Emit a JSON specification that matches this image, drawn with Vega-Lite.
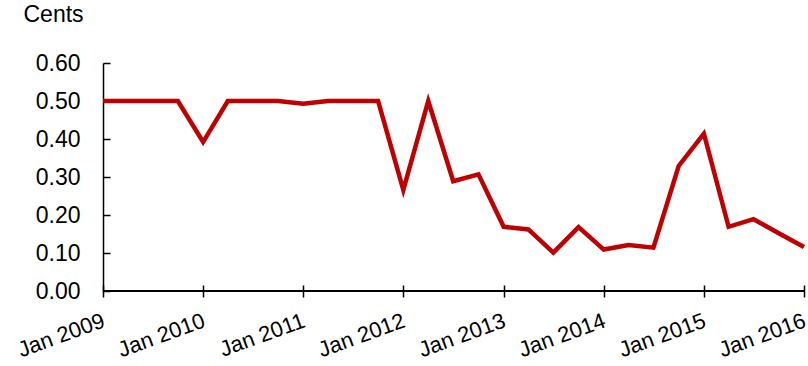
{
  "$schema": "https://vega.github.io/schema/vega-lite/v6.json",
  "width": 701,
  "height": 228,
  "autosize": "none",
  "padding": {"left": 103, "top": 63, "right": 4, "bottom": 75},
  "background": "white",
  "config": {
    "view": {"stroke": null},
    "font": "Liberation Sans",
    "axis": {"grid": false, "domainColor": "black", "tickColor": "black", "labelColor": "black", "titleColor": "black", "labelFont": "Liberation Sans", "titleFont": "Liberation Sans", "labelFontSize": 23, "titleFontSize": 23, "titleFontWeight": "normal", "domainWidth": 1.5, "tickWidth": 1.5, "labelOverlap": false}
  },
  "data": {"values": [
    {"date": "2009-01-01", "value": 0.50},
    {"date": "2009-04-01", "value": 0.50},
    {"date": "2009-07-01", "value": 0.50},
    {"date": "2009-10-01", "value": 0.50},
    {"date": "2010-01-01", "value": 0.392},
    {"date": "2010-04-01", "value": 0.50},
    {"date": "2010-07-01", "value": 0.50},
    {"date": "2010-10-01", "value": 0.50},
    {"date": "2011-01-01", "value": 0.493},
    {"date": "2011-04-01", "value": 0.50},
    {"date": "2011-07-01", "value": 0.50},
    {"date": "2011-10-01", "value": 0.50},
    {"date": "2012-01-01", "value": 0.266},
    {"date": "2012-04-01", "value": 0.50},
    {"date": "2012-07-01", "value": 0.289},
    {"date": "2012-10-01", "value": 0.307},
    {"date": "2013-01-01", "value": 0.169},
    {"date": "2013-04-01", "value": 0.162},
    {"date": "2013-07-01", "value": 0.101},
    {"date": "2013-10-01", "value": 0.168},
    {"date": "2014-01-01", "value": 0.109},
    {"date": "2014-04-01", "value": 0.121},
    {"date": "2014-07-01", "value": 0.114},
    {"date": "2014-10-01", "value": 0.329},
    {"date": "2015-01-01", "value": 0.414},
    {"date": "2015-04-01", "value": 0.169},
    {"date": "2015-07-01", "value": 0.189},
    {"date": "2015-10-01", "value": 0.152},
    {"date": "2016-01-01", "value": 0.116}
  ]},
  "layer": [
    {
      "mark": {"type": "line", "color": "#c00000", "strokeWidth": 4.5, "strokeJoin": "miter", "clip": false},
      "encoding": {
        "x": {
          "field": "date", "type": "temporal",
          "scale": {"type": "utc", "domain": ["2009-01-01", "2016-01-01"]},
          "axis": {
            "title": null,
            "format": "%b %Y",
            "values": ["2009-01-01", "2010-01-01", "2011-01-01", "2012-01-01", "2013-01-01", "2014-01-01", "2015-01-01", "2016-01-01"],
            "domain": false,
            "offset": -6,
            "tickSize": 12,
            "labelFontSize": 22,
            "labelAngle": -20,
            "labelAlign": "right",
            "labelBaseline": "top",
            "labelPadding": 13,
            "labelOffset": -3,
            "labelFlush": false,
            "labelOverlap": false
          }
        },
        "y": {
          "field": "value", "type": "quantitative",
          "scale": {"domain": [0, 0.6], "nice": false, "zero": true},
          "axis": {
            "title": "Cents",
            "titleAngle": 0,
            "titleAlign": "left",
            "titleBaseline": "top",
            "titleX": -80,
            "titleY": -60,
            "values": [0, 0.1, 0.2, 0.3, 0.4, 0.5, 0.6],
            "tickCount": 7,
            "format": ".2f",
            "tickSize": -7,
            "labelPadding": 30,
            "labelFlush": false,
            "labelOverlap": false
          }
        }
      }
    },
    {
      "mark": {"type": "rule", "color": "black", "strokeWidth": 1.5},
      "encoding": {"y": {"datum": 0, "type": "quantitative"}}
    }
  ]
}
